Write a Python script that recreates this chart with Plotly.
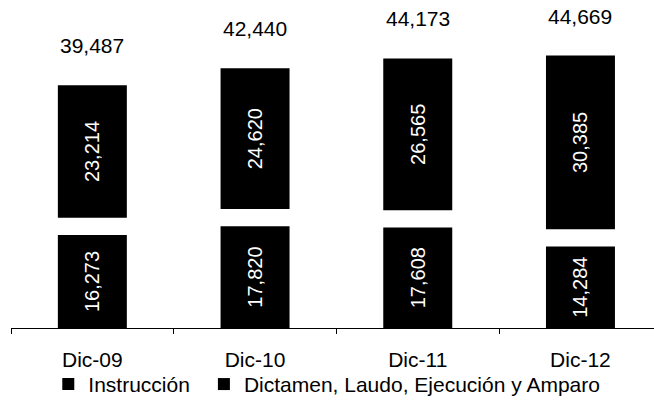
import plotly.graph_objects as go

categories = ["Dic-09", "Dic-10", "Dic-11", "Dic-12"]
instruccion = [16273, 17820, 17608, 14284]
dictamen = [23214, 24620, 26565, 30385]
series_names = ["Instrucción", "Dictamen, Laudo, Ejecución y Amparo"]

GAP = 3000  # visual white gap between the stacked segments (data units)
FONT = "Liberation Sans, Arial, Helvetica, sans-serif"

totals = [a + b for a, b in zip(instruccion, dictamen)]
tops = [a + GAP + b for a, b in zip(instruccion, dictamen)]

fig = go.Figure()
fig.add_trace(go.Bar(
    x=categories, y=instruccion, name=series_names[0], legend="legend",
    marker=dict(color="#000000", line=dict(width=0)),
    text=[f"{v:,}" for v in instruccion],
    textposition="inside", insidetextanchor="middle", textangle=-90,
    textfont=dict(color="white", size=20, family=FONT),
))
fig.add_trace(go.Bar(
    x=categories, y=dictamen, base=[v + GAP for v in instruccion],
    name=series_names[1], legend="legend2",
    marker=dict(color="#000000", line=dict(width=0)),
    text=[f"{v:,}" for v in dictamen],
    textposition="inside", insidetextanchor="middle", textangle=-90,
    textfont=dict(color="white", size=20, family=FONT),
))

for c, t, top in zip(categories, totals, tops):
    fig.add_annotation(x=c, y=top, text=f"{t:,}", showarrow=False,
                       yanchor="bottom", yshift=26,
                       font=dict(size=21, color="black", family=FONT))

legend_common = dict(orientation="h", xanchor="left", y=-0.172, yanchor="middle",
                     font=dict(size=21, color="black", family=FONT),
                     itemwidth=30, bgcolor="rgba(0,0,0,0)")

fig.update_layout(
    width=654, height=400, autosize=False,
    margin=dict(l=11, r=0, t=0, b=72, autoexpand=False),
    paper_bgcolor="white", plot_bgcolor="white",
    barmode="overlay", bargap=0.576,
    font=dict(family=FONT, color="black"),
    showlegend=True,
    legend=dict(x=0.058, **legend_common),
    legend2=dict(x=0.30, **legend_common),
    xaxis=dict(range=[-0.5, 3.452], showline=True, linecolor="black", linewidth=1,
               ticks="outside", tickson="boundaries", ticklen=5, tickcolor="black",
               tickfont=dict(size=21, color="black", family=FONT), automargin=False,
               ticklabelstandoff=13, showgrid=False, zeroline=False, fixedrange=True),
    yaxis=dict(visible=False, range=[0, 57400], showgrid=False, zeroline=False,
               fixedrange=True, automargin=False),
)

fig.write_html("out.html", config={"displayModeBar": False},
               post_script="document.body.style.margin='0';")
